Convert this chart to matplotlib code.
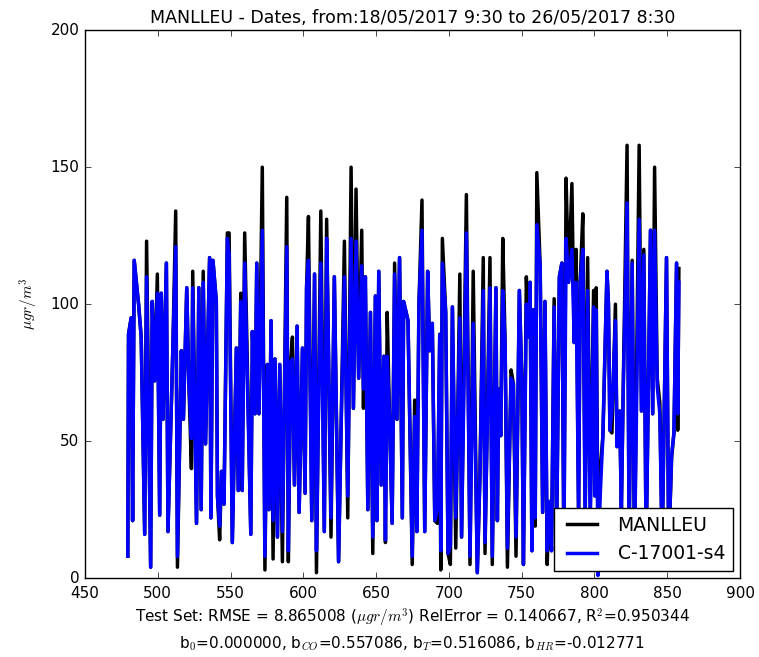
import matplotlib
matplotlib.use("Agg")
import matplotlib.pyplot as plt

hours = [
    479.4, 479.9, 481.7, 482.7, 483.8, 486.8, 488.6, 491.0, 492.3, 495.1,
    496.2, 497.8, 499.7, 501.3, 502.4, 503.6, 505.9, 507.0, 510.3, 512.3,
    513.5, 516.2, 517.6, 519.9, 521.3, 523.1, 524.0, 526.6, 528.2, 529.8,
    531.2, 532.8, 535.6, 536.5, 537.9, 540.2, 541.0, 542.5, 543.8, 545.5,
    547.8, 549.0, 551.2, 554.0, 555.3, 557.0, 558.0, 559.7, 563.9, 565.0,
    566.8, 568.0, 569.5, 571.8, 573.6, 575.3, 576.4, 577.8, 579.2, 580.5,
    582.2, 583.8, 585.6, 588.6, 589.7, 591.3, 592.5, 593.9, 595.7, 597.1,
    599.4, 601.2, 602.2, 603.5, 605.8, 607.7, 609.0, 610.2, 612.0, 614.4,
    616.0, 617.0, 619.0, 621.3, 624.2, 625.9, 628.2, 630.5, 632.8, 634.4,
    636.2, 638.0, 640.1, 641.3, 642.6, 644.3, 646.1, 647.7, 649.5, 650.5,
    651.8, 653.5, 655.3, 656.4, 657.6, 659.2, 661.0, 662.7, 664.3, 666.1,
    668.0, 668.9, 671.9, 674.8, 676.5, 678.0, 679.4, 681.5, 683.4, 685.4,
    686.8, 688.6, 690.3, 692.1, 693.7, 694.4, 695.5, 697.8, 699.4, 701.0,
    702.4, 704.7, 707.5, 708.7, 712.0, 714.5, 716.7, 719.5, 721.3, 723.6,
    724.8, 728.2, 729.8, 732.3, 733.3, 734.2, 735.6, 737.0, 738.6, 740.2,
    742.7, 744.3, 746.1, 748.4, 750.1, 751.2, 753.2, 754.7, 755.8, 757.0,
    758.1, 759.3, 760.4, 762.7, 764.4, 766.0, 767.5, 769.0, 770.5, 772.3,
    774.0, 775.9, 777.6, 779.0, 780.5, 782.2, 784.5, 786.1, 787.4, 789.1,
    790.2, 792.0, 793.6, 795.3, 797.1, 799.4, 800.3, 801.2, 802.4, 804.0,
    805.8, 808.6, 809.6, 810.6, 812.0, 814.4, 815.5, 817.3, 818.5, 819.6,
    822.4, 823.8, 825.9, 827.5, 830.7, 832.3, 833.9, 835.5, 838.5, 840.0,
    841.3, 843.1, 844.9, 846.5, 849.5, 851.0, 853.0, 854.6, 856.4, 857.2,
    858.0,
]
measured = [
    8, 89, 95, 21, 116, 100, 88, 16, 123, 4,
    101, 72, 111, 23, 104, 58, 115, 17, 83, 134,
    4, 83, 58, 106, 72, 40, 112, 20, 106, 25,
    112, 49, 117, 22, 116, 101, 30, 14, 39, 27,
    126, 126, 13, 84, 32, 104, 32, 126, 16, 90,
    60, 115, 60, 150, 3, 78, 25, 94, 7, 80,
    15, 78, 6, 139, 6, 79, 88, 34, 92, 24,
    84, 31, 106, 132, 21, 111, 2, 54, 134, 17,
    131, 93, 15, 110, 6, 54, 123, 22, 150, 62,
    142, 73, 127, 62, 110, 25, 97, 9, 103, 21,
    112, 34, 81, 13, 97, 59, 20, 115, 58, 117,
    22, 101, 94, 5, 65, 17, 100, 138, 17, 112,
    83, 93, 21, 20, 89, 3, 124, 97, 9, 5,
    99, 11, 111, 15, 140, 5, 112, 2, 37, 117,
    9, 117, 5, 106, 21, 69, 52, 124, 86, 4,
    76, 71, 8, 105, 72, 5, 110, 88, 108, 10,
    98, 19, 148, 114, 24, 101, 5, 28, 10, 102,
    15, 110, 115, 10, 146, 108, 144, 86, 120, 22,
    108, 133, 25, 117, 25, 105, 30, 106, 15, 40,
    52, 112, 100, 54, 53, 100, 48, 61, 25, 64,
    158, 15, 116, 8, 158, 61, 120, 10, 127, 60,
    150, 73, 64, 10, 117, 10, 44, 53, 115, 54,
    113,
]
predicted = [
    8, 89, 95, 21, 116, 100, 88, 16, 110, 4,
    101, 72, 104, 23, 104, 58, 115, 17, 83, 121,
    8, 83, 58, 106, 72, 51, 106, 20, 106, 25,
    108, 49, 117, 22, 116, 101, 30, 19, 39, 27,
    124, 118, 13, 84, 32, 101, 32, 115, 16, 90,
    60, 115, 60, 127, 8, 78, 25, 94, 21, 80,
    15, 78, 17, 121, 10, 79, 80, 34, 92, 24,
    84, 31, 106, 116, 21, 111, 10, 54, 115, 17,
    124, 93, 22, 110, 6, 54, 110, 30, 124, 62,
    123, 73, 114, 69, 110, 25, 97, 15, 103, 21,
    112, 34, 81, 14, 81, 59, 20, 111, 58, 117,
    22, 101, 94, 8, 59, 17, 100, 127, 17, 112,
    83, 93, 21, 25, 89, 10, 115, 97, 9, 12,
    99, 22, 95, 15, 126, 8, 93, 2, 37, 105,
    13, 106, 8, 106, 21, 69, 52, 105, 86, 11,
    73, 71, 15, 105, 72, 5, 100, 88, 108, 10,
    98, 22, 129, 114, 24, 101, 10, 28, 10, 99,
    15, 110, 115, 10, 124, 108, 120, 86, 108, 22,
    108, 120, 20, 105, 20, 99, 30, 98, 1, 31,
    52, 112, 100, 54, 61, 94, 48, 61, 25, 64,
    137, 15, 115, 8, 131, 61, 118, 10, 127, 60,
    127, 70, 60, 10, 117, 10, 45, 53, 115, 60,
    108,
]

plt.style.use("classic")
plt.rcParams["figure.facecolor"] = "white"
plt.rcParams["savefig.facecolor"] = "white"

fig = plt.figure(figsize=(7.59, 6.57), dpi=100)
ax = fig.add_axes([0.112, 0.120, 0.863, 0.834])

ax.plot(hours, measured, color="k", linewidth=2.5, label="MANLLEU")
ax.plot(hours, predicted, color="b", linewidth=2.5, label="C-17001-s4")

ax.set_xlim(450, 900)
ax.set_ylim(0, 200)
ax.set_xticks(range(450, 901, 50))
ax.set_yticks(range(0, 201, 50))
ax.tick_params(labelsize=11)
ax.tick_params(axis="x", pad=6)
ax.set_title("MANLLEU - Dates, from:18/05/2017 9:30 to 26/05/2017 8:30", fontsize=12.5)
ax.set_ylabel(r"$\mu gr/m^3$", fontsize=11)
ax.yaxis.set_label_coords(-0.068, 0.5)
ax.legend(loc="lower right", fontsize=13.5, fancybox=False, handlelength=2.2,
          borderaxespad=0.4)

fig.text(0.543, 0.059,
         r"Test Set: RMSE = 8.865008 ($\mu gr/m^3$) RelError = 0.140667, R$^2$=0.950344",
         ha="center", va="center", fontsize=11)
fig.text(0.543, 0.021,
         r"b$_0$=0.000000, b$_{CO}$=0.557086, b$_T$=0.516086, b$_{HR}$=-0.012771",
         ha="center", va="center", fontsize=11)

fig.savefig("out.png", dpi=100)
